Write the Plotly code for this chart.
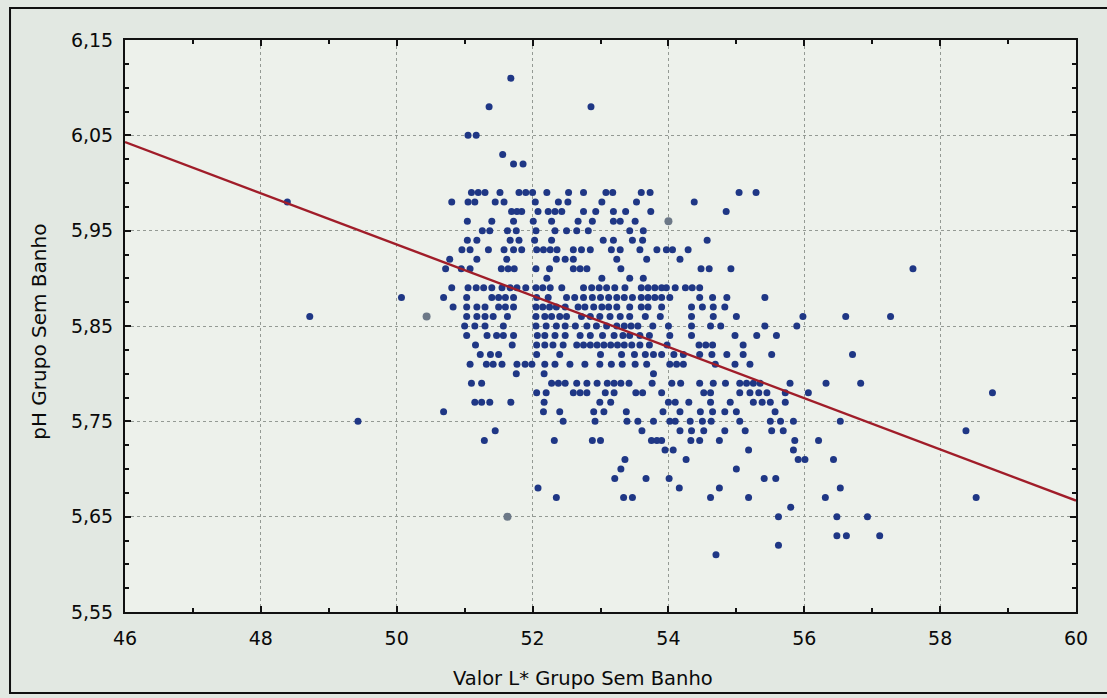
import plotly.graph_objects as go

# pH levels (one row of points per level) and the L* readings found at each level
ph_levels = [
    6.11, 6.08, 6.05, 6.03, 6.02, 5.99, 5.98, 5.97, 5.96, 5.95, 5.94, 5.93, 5.92,
    5.91, 5.90, 5.89, 5.88, 5.87, 5.86, 5.85, 5.84, 5.83, 5.82, 5.81, 5.80, 5.79,
    5.78, 5.77, 5.76, 5.75, 5.74, 5.73, 5.72, 5.71, 5.70, 5.69, 5.68, 5.67, 5.66,
    5.65, 5.63, 5.62, 5.61,
]
valor_l_rows = [
    [51.68],
    [51.36, 52.86],
    [51.05, 51.17],
    [51.56],
    [51.72, 51.86],
    [51.1, 51.2, 51.3, 51.52, 51.8, 51.9, 52.0, 52.21, 52.53, 52.75, 53.08, 53.18,
     53.6, 53.73, 55.04, 55.29],
    [48.39, 50.81, 51.05, 51.15, 51.45, 51.58, 52.04, 52.38, 52.52, 53.02, 53.53,
     54.38],
    [51.69, 51.77, 51.84, 52.08, 52.23, 52.33, 52.43, 52.75, 52.93, 53.19, 53.37,
     53.74, 54.85],
    [51.04, 51.40, 51.72, 52.01, 52.28, 52.67, 52.88, 53.19, 53.29, 53.51],
    [51.26, 51.37, 51.63, 51.76, 52.05, 52.33, 52.5, 52.65, 52.82, 53.43, 53.63],
    [51.04, 51.18, 51.67, 51.80, 52.03, 52.28, 53.04, 53.19, 53.47, 53.62, 54.57],
    [50.96, 51.08, 51.35, 51.58, 51.72, 51.84, 52.06, 52.16, 52.26, 52.36, 52.6,
     52.72, 52.85, 53.16, 53.29, 53.58, 53.83, 53.97, 54.06, 54.29],
    [50.78, 51.18, 51.62, 52.35, 52.48, 52.6, 53.24, 53.68, 54.17],
    [50.72, 50.95, 51.08, 51.54, 51.64, 51.73, 52.05, 52.25, 52.6, 52.7, 52.8, 53.3,
     54.48, 54.6, 54.92, 57.6],
    [52.21, 53.02, 53.43, 53.63],
    [50.81, 51.05, 51.17, 51.28, 51.4, 51.55, 51.67, 51.77, 51.9, 52.05, 52.15,
     52.26, 52.43, 52.75, 52.87, 52.98, 53.09, 53.21, 53.36, 53.6, 53.7, 53.8, 53.9,
     53.97, 54.1, 54.25, 54.35, 54.46],
    [50.07, 50.69, 51.03, 51.4, 51.5, 51.6, 51.72, 52.06, 52.23, 52.5, 52.62, 52.75,
     52.88, 53.0, 53.12, 53.24, 53.35, 53.47, 53.6, 53.7, 53.8, 53.9, 54.02, 54.46,
     54.65, 54.86, 55.42],
    [50.83, 51.03, 51.18, 51.3, 51.5, 51.6, 51.72, 52.05, 52.15, 52.25, 52.35, 52.48,
     52.67, 52.77, 52.9, 53.02, 53.12, 53.24, 53.43, 53.6, 53.7, 53.9, 54.34, 54.5,
     54.66, 54.83],
    [48.72, 51.03, 51.18, 51.3, 51.42, 51.63, 52.05, 52.18, 52.28, 52.4, 52.5, 52.72,
     52.85, 52.99, 53.14, 53.29, 53.43, 53.66, 53.88, 54.34, 54.66, 55.0, 55.98,
     56.61, 57.27],
    [51.0, 51.15, 51.3, 51.57, 52.05, 52.2, 52.35, 52.48, 52.63, 52.8, 52.94, 53.09,
     53.24, 53.35, 53.45, 53.55, 53.77, 54.0, 54.34, 54.62, 54.77, 55.42, 55.89],
    [51.03, 51.33, 51.47, 51.57, 51.72, 52.07, 52.18, 52.33, 52.48, 52.7, 52.85,
     53.03, 53.2, 53.33, 53.43, 53.58, 53.72, 54.02, 54.34, 54.98, 55.3, 55.59],
    [51.16, 51.7, 52.06, 52.18, 52.3, 52.45, 52.65, 52.75, 52.85, 52.95, 53.05,
     53.15, 53.25, 53.35, 53.46, 53.58, 53.72, 53.98, 54.45, 54.55, 54.65, 55.1],
    [51.23, 51.38, 51.5, 52.06, 52.4, 53.0, 53.31, 53.5, 53.66, 53.78, 53.9, 54.08,
     54.22, 54.46, 54.64, 54.86, 55.1, 55.52, 56.71],
    [51.08, 51.32, 51.42, 51.55, 51.77, 51.89, 51.99, 52.18, 52.33, 52.55, 52.77,
     52.99, 53.16, 53.32, 53.51, 53.68, 54.02, 54.12, 54.22, 54.69, 54.98, 55.2],
    [51.76, 52.17, 53.78],
    [51.1, 51.25, 52.28, 52.38, 52.48, 52.65, 52.8, 52.95, 53.1, 53.2, 53.3, 53.42,
     53.76, 54.05, 54.18, 54.46, 54.66, 54.84, 55.05, 55.15, 55.25, 55.35, 55.79,
     56.32, 56.83],
    [52.06, 52.2, 52.6, 52.7, 52.8, 53.07, 53.2, 53.52, 53.62, 53.9, 54.52, 54.62,
     55.05, 55.2, 55.33, 55.45, 55.72, 56.06, 58.77],
    [51.15, 51.25, 51.37, 51.68, 52.17, 52.99, 53.15, 54.0, 54.1, 54.3, 54.62, 54.91,
     55.25, 55.38, 55.5, 55.72],
    [50.69, 52.16, 52.4, 52.9, 53.05, 53.38, 53.92, 54.17, 54.47, 54.65, 54.83, 55.0,
     55.57],
    [49.43, 52.45, 52.92, 53.39, 53.55, 53.78, 54.02, 54.1, 54.32, 54.5, 54.63, 55.05,
     55.5, 55.65, 55.84, 56.53],
    [51.45, 53.61, 54.17, 54.34, 54.52, 54.83, 55.13, 55.52, 55.69, 58.38],
    [51.29, 52.32, 52.88, 53.0, 53.75, 53.83, 53.9, 54.33, 54.46, 54.75, 55.86, 56.21],
    [53.95, 54.07, 55.18, 55.84],
    [53.36, 54.26, 55.91, 56.01, 56.43],
    [53.3, 55.0],
    [53.21, 53.67, 54.01, 55.41, 55.58],
    [52.08, 54.16, 54.75, 56.53],
    [52.35, 53.34, 53.47, 54.62, 55.18, 56.31, 58.53],
    [55.8],
    [55.62, 56.48, 56.93],
    [56.48, 56.62, 57.11],
    [55.62],
    [54.7],
]

# a few points printed in a lighter grey tone
valor_l_grey = [54.0, 50.44, 51.63]
ph_grey = [5.96, 5.86, 5.65]

# fitted straight line  pH = intercept + slope * L*
fit_intercept = 7.2785
fit_slope = -0.02686

x_range = [46, 60]
y_range = [5.55, 6.15]

x_title = "Valor L* Grupo Sem Banho"
y_title = "pH Grupo Sem Banho"

valor_l = [v for row in valor_l_rows for v in row]
ph = [p for p, row in zip(ph_levels, valor_l_rows) for _ in row]

fit_x = list(x_range)
fit_y = [fit_intercept + fit_slope * v for v in fit_x]

FONT = "DejaVu Sans"
TEXT = "#0a0a0a"

fig = go.Figure()
fig.add_trace(go.Scatter(
    x=valor_l, y=ph, mode="markers",
    marker=dict(size=7, color="#1f3785", line=dict(width=0)),
    hoverinfo="skip", showlegend=False,
))
fig.add_trace(go.Scatter(
    x=valor_l_grey, y=ph_grey, mode="markers",
    marker=dict(size=8, color="#6c7887", line=dict(width=0)),
    hoverinfo="skip", showlegend=False,
))
fig.add_trace(go.Scatter(
    x=fit_x, y=fit_y, mode="lines",
    line=dict(color="#a01d29", width=2.4),
    hoverinfo="skip", showlegend=False,
))

axis_common = dict(
    showline=True, linecolor="#111111", linewidth=2, mirror="ticks",
    ticks="inside", ticklen=6, tickwidth=1.5, tickcolor="#111111",
    showgrid=True, gridcolor="#949a94", gridwidth=1, griddash="dot",
    zeroline=False,
    tickfont=dict(family=FONT, size=19, color=TEXT),
)

fig.update_xaxes(
    range=x_range, tick0=46, dtick=2,
    minor=dict(dtick=1, ticks="inside", ticklen=4, tickcolor="#111111", showgrid=False),
    ticklabelstandoff=8,
    **axis_common,
)
fig.update_yaxes(
    range=y_range, tick0=5.55, dtick=0.1, tickformat=".2f",
    minor=dict(dtick=0.025, ticks="inside", ticklen=4, tickcolor="#111111", showgrid=False),
    ticklabelstandoff=6,
    **axis_common,
)

fig.add_annotation(
    text=x_title, xref="paper", yref="paper", x=0.4816, y=-0.1154,
    xanchor="center", yanchor="middle", showarrow=False,
    font=dict(family=FONT, size=19.5, color=TEXT),
)
fig.add_annotation(
    text=y_title, xref="paper", yref="paper", x=-0.0904, y=0.49,
    xanchor="center", yanchor="middle", textangle=-90, showarrow=False,
    font=dict(family=FONT, size=20, color=TEXT),
)

# outer frame around the whole chart
fig.add_shape(
    type="rect", xref="paper", yref="paper",
    x0=-0.1209, x1=1.0347, y0=-0.1416, y1=1.0559,
    line=dict(color="#111111", width=2), fillcolor="rgba(0,0,0,0)", layer="below",
)

fig.update_layout(
    width=1107, height=698,
    margin=dict(l=125, r=31, t=40, b=86, autoexpand=False),
    paper_bgcolor="#e2e8e2", plot_bgcolor="#edf1eb",
    separators=",.",
    showlegend=False,
)

fig.write_html("out.html")
